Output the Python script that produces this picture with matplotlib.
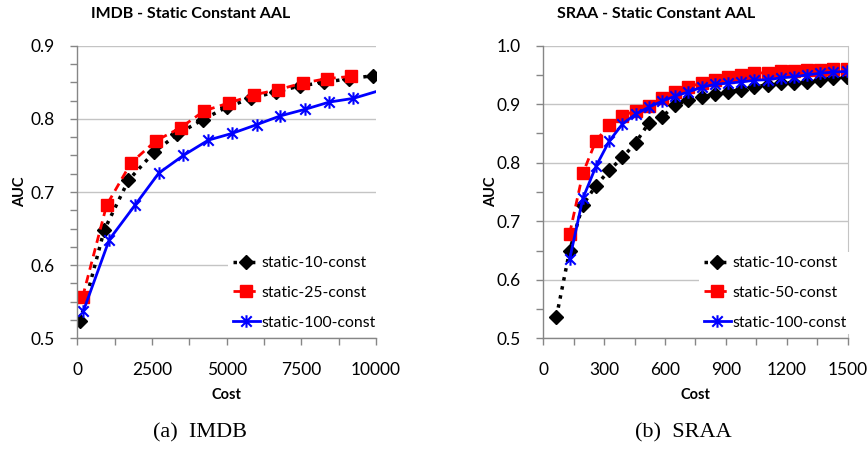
import numpy as np
import matplotlib
matplotlib.use("Agg")
import matplotlib.pyplot as plt
from matplotlib.path import Path
from matplotlib.ticker import MultipleLocator

plt.rcParams['font.family'] = ['Lato', 'DejaVu Sans']

# IMDB panel
imdb_cost10 = [90, 900, 1710, 2580, 3350, 4200, 5000, 5820, 6650, 7460, 8270, 9110, 9910]
imdb_auc10 = [0.523, 0.648, 0.716, 0.755, 0.779, 0.799, 0.816, 0.828, 0.837, 0.845, 0.850, 0.855, 0.859]
imdb_cost25 = [180, 980, 1800, 2630, 3460, 4250, 5090, 5930, 6730, 7550, 8350, 9160]
imdb_auc25 = [0.557, 0.682, 0.740, 0.770, 0.788, 0.811, 0.822, 0.833, 0.840, 0.849, 0.855, 0.858]
imdb_cost100 = [200, 1070, 1930, 2730, 3550, 4390, 5170, 6000, 6790, 7620, 8440, 9240, 10060]
imdb_auc100 = [0.537, 0.635, 0.682, 0.726, 0.750, 0.771, 0.780, 0.792, 0.804, 0.813, 0.823, 0.828, 0.838]

# SRAA panel
sraa_cost10 = [65, 130, 195, 260, 325, 390, 455, 520, 585, 650, 715, 780, 845, 910,
               975, 1040, 1105, 1170, 1235, 1300, 1365, 1430, 1495]
sraa_auc10 = [0.537, 0.650, 0.728, 0.761, 0.787, 0.809, 0.834, 0.868, 0.878, 0.899, 0.907, 0.912,
              0.918, 0.921, 0.925, 0.930, 0.933, 0.936, 0.937, 0.938, 0.942, 0.944, 0.947]
sraa_cost = [130, 195, 260, 325, 390, 455, 520, 585, 650, 715, 780, 845, 910,
             975, 1040, 1105, 1170, 1235, 1300, 1365, 1430, 1495]
sraa_auc50 = [0.679, 0.782, 0.838, 0.864, 0.880, 0.889, 0.897, 0.910, 0.921, 0.930, 0.936,
              0.941, 0.946, 0.950, 0.953, 0.954, 0.956, 0.957, 0.958, 0.959, 0.960, 0.960]
sraa_auc100 = [0.635, 0.739, 0.794, 0.837, 0.866, 0.883, 0.895, 0.905, 0.914, 0.921, 0.929,
               0.934, 0.936, 0.938, 0.941, 0.942, 0.945, 0.947, 0.950, 0.953, 0.955, 0.956]

# excel-like star: an X with a vertical bar
star = Path([(-1, -1), (1, 1), (-1, 1), (1, -1), (0, -1.2), (0, 1.2)],
            [Path.MOVETO, Path.LINETO, Path.MOVETO, Path.LINETO, Path.MOVETO, Path.LINETO])

SPINE = '#868686'
GRID = '#c4c4c4'


def style_axes(ax, xmax, xmajor, xminor, ymin, ymax, yminor, ylab_x):
    ax.set_xlim(0, xmax)
    ax.set_ylim(ymin, ymax)
    ax.xaxis.set_major_locator(MultipleLocator(xmajor))
    ax.xaxis.set_minor_locator(MultipleLocator(xminor))
    ax.yaxis.set_major_locator(MultipleLocator(0.1))
    ax.yaxis.set_minor_locator(MultipleLocator(yminor))
    ax.yaxis.set_major_formatter(matplotlib.ticker.FormatStrFormatter('%.1f'))
    ax.grid(axis='y', color=GRID, lw=1)
    ax.set_axisbelow(True)
    for s in ['top', 'right']:
        ax.spines[s].set_visible(False)
    for s in ['left', 'bottom']:
        ax.spines[s].set_color(SPINE)
        ax.spines[s].set_linewidth(1)
    ax.tick_params(which='both', direction='out', length=5, color=SPINE, width=1,
                   labelsize=12.5, labelcolor='black')
    ax.tick_params(axis='x', which='major', pad=12)
    ax.tick_params(axis='y', which='major', pad=11)
    ax.set_xlabel('Cost', fontsize=10.5, fontweight='bold', labelpad=7)
    ax.set_ylabel('AUC', fontsize=10.5, fontweight='bold')
    ax.yaxis.set_label_coords(ylab_x, 0.5)


fig = plt.figure(figsize=(8.67, 4.49), dpi=100)
ax1 = fig.add_axes([0.0892, 0.2465, 0.3445, 0.6517])
ax2 = fig.add_axes([0.6266, 0.2465, 0.3511, 0.6517])

# IMDB
ax1.plot(imdb_cost10, imdb_auc10, color='black', ls=':', lw=2.5, marker='D', ms=7,
         label='static-10-const')
ax1.plot(imdb_cost25, imdb_auc25, color='red', ls=(0, (3, 2)), lw=2, marker='s', ms=8,
         label='static-25-const')
ax1.plot(imdb_cost100, imdb_auc100, color='blue', ls='-', lw=2, marker=star, ms=9, mew=1.5,
         markevery=list(range(len(imdb_cost100) - 1)), label='static-100-const')
style_axes(ax1, 10000, 2500, 1250, 0.5, 0.9, 0.025, -0.168)

# SRAA
ax2.plot(sraa_cost10, sraa_auc10, color='black', ls=':', lw=2.5, marker='D', ms=7,
         label='static-10-const')
ax2.plot(sraa_cost, sraa_auc50, color='red', ls=(0, (3, 2)), lw=2, marker='s', ms=8,
         label='static-50-const')
ax2.plot(sraa_cost, sraa_auc100, color='blue', ls='-', lw=2, marker=star, ms=9, mew=1.5,
         label='static-100-const')
style_axes(ax2, 1500, 300, 150, 0.5, 1.0, 0.05, -0.150)
ax2.spines['right'].set_visible(True)
ax2.spines['right'].set_color(GRID)

for ax, x0 in [(ax1, 228), (ax2, 699)]:
    leg = ax.legend(loc='upper left', bbox_to_anchor=(x0 / 867, 1 - 251.5 / 449),
                    bbox_transform=fig.transFigure, frameon=True, fancybox=False,
                    facecolor='white', edgecolor='none', framealpha=1, fontsize=11.3,
                    borderpad=0.3, handlelength=1.75, handletextpad=0.1, labelspacing=1.0,
                    borderaxespad=0)
    leg.set_zorder(5)

fig.text(90.7 / 867, 1 - 14 / 449, 'IMDB - Static Constant AAL', fontsize=11.5,
         fontweight='bold', ha='left', va='center')
fig.text(557 / 867, 1 - 14 / 449, 'SRAA - Static Constant AAL', fontsize=11.5,
         fontweight='bold', ha='left', va='center')

fig.text(200 / 867, 1 - 433 / 449, '(a)  IMDB', fontsize=16, family='Liberation Serif',
         ha='center', va='center')
fig.text(683 / 867, 1 - 433 / 449, '(b)  SRAA', fontsize=16, family='Liberation Serif',
         ha='center', va='center')

fig.savefig('out.png', dpi=100)
